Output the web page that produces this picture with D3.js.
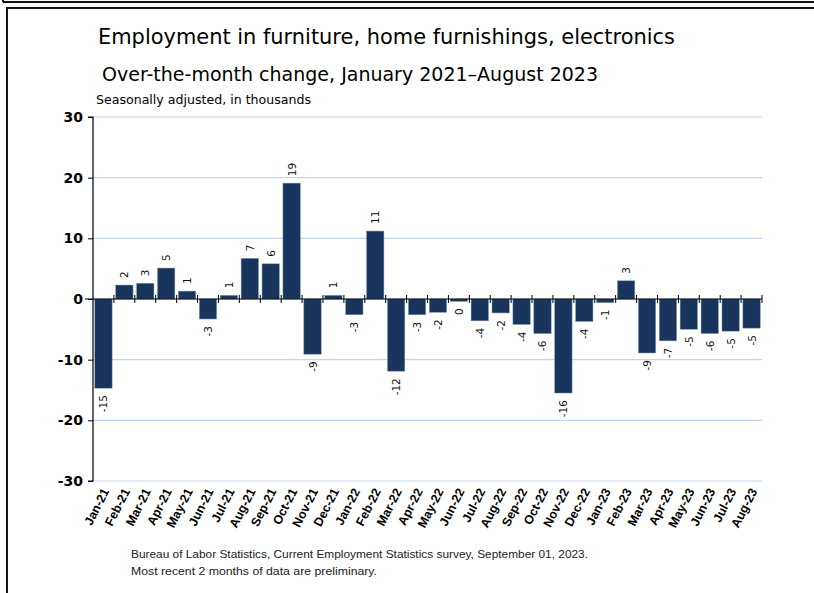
<!DOCTYPE html>
<html><head><meta charset="utf-8">
<script src="https://cdn.jsdelivr.net/npm/d3@7/dist/d3.min.js"></script>
<style>body{margin:0;background:#fff}svg{display:block}</style>
</head><body>
<script>
const months = ["Jan-21","Feb-21","Mar-21","Apr-21","May-21","Jun-21","Jul-21","Aug-21","Sep-21","Oct-21","Nov-21","Dec-21",
"Jan-22","Feb-22","Mar-22","Apr-22","May-22","Jun-22","Jul-22","Aug-22","Sep-22","Oct-22","Nov-22","Dec-22",
"Jan-23","Feb-23","Mar-23","Apr-23","May-23","Jun-23","Jul-23","Aug-23"];
const values = [-14.7,2.3,2.6,5.1,1.3,-3.3,0.6,6.7,5.8,19.1,-9.1,0.6,
-2.6,11.2,-11.9,-2.6,-2.2,-0.4,-3.6,-2.3,-4.2,-5.7,-15.5,-3.7,
-0.6,3.0,-8.9,-6.9,-5.0,-5.7,-5.3,-4.8];
const barLabels = ["-15","2","3","5","1","-3","1","7","6","19","-9","1",
"-3","11","-12","-3","-2","0","-4","-2","-4","-6","-16","-4",
"-1","3","-9","-7","-5","-6","-5","-5"];
const yTicks = [-30,-20,-10,0,10,20,30];
const title = "Employment in furniture, home furnishings, electronics";
const subtitle = "Over-the-month change, January 2021\u2013August 2023";
const unitsNote = "Seasonally adjusted, in thousands";
const footer = ["Bureau of Labor Statistics, Current Employment Statistics survey, September 01, 2023.",
"Most recent 2 months of data are preliminary."];

(function(){
const W = 814, H = 593;
const svg = d3.select("body").append("svg").attr("width", W).attr("height", H);

// frames
svg.append("line").attr("x1",3).attr("x2",W).attr("y1",2).attr("y2",2).attr("stroke","#111").attr("stroke-width",2);
svg.append("line").attr("x1",3).attr("x2",3).attr("y1",0).attr("y2",2).attr("stroke","#111").attr("stroke-width",2);
svg.append("path").attr("d",`M7,${H} V8 H${W}`).attr("fill","none").attr("stroke","#111").attr("stroke-width",2);

const pL = 93, pR = 762, pT = 117, pB = 481;
const x = d3.scaleBand().domain(months).range([pL, pR]).paddingInner(0.17).paddingOuter(0.085);
const y = d3.scaleLinear().domain([-30, 30]).range([pB, pT]);

// gridlines
svg.append("g").selectAll("line").data(yTicks.filter(d => d !== 0)).join("line")
  .attr("x1", pL).attr("x2", pR).attr("y1", d => y(d)).attr("y2", d => y(d))
  .attr("stroke", "#c3d4ec").attr("stroke-width", 1.2);

// bars
svg.append("g").selectAll("rect").data(values).join("rect")
  .attr("x", (d,i) => x(months[i]))
  .attr("width", x.bandwidth())
  .attr("y", d => y(Math.max(0, d)))
  .attr("height", d => Math.abs(y(d) - y(0)))
  .attr("fill", "#18365d").attr("stroke", "#8397b2").attr("stroke-width", 0.5);

// bar labels
svg.append("g").selectAll("text").data(values).join("text")
  .attr("transform", (d,i) => {
    const cx = x(months[i]) + x.bandwidth()/2 + 4;
    const cy = d >= 0 ? y(d) - 7 : y(d) + 7;
    return `translate(${cx},${cy}) rotate(-90)`;
  })
  .attr("text-anchor", d => d >= 0 ? "start" : "end")
  .attr("font-family", "DejaVu Sans, sans-serif").attr("font-size", 10.5).attr("fill", "#111")
  .text((d,i) => barLabels[i]);

// y axis
const yAxis = d3.axisLeft(y).tickValues(yTicks).tickSize(5).tickFormat(d => String(d));
const gy = svg.append("g").attr("transform", `translate(${pL},0)`).call(yAxis);
gy.select(".domain").attr("stroke", "#000").attr("stroke-width", 1.2).attr("d", `M-5,${pT}H0V${pB}H-5`);
gy.selectAll(".tick line").attr("stroke", "#000");
gy.selectAll(".tick text").attr("font-family", "DejaVu Sans, sans-serif").attr("font-weight", "bold")
  .attr("font-size", 14).attr("fill", "#000").attr("x", -10);

// zero axis with category boundary ticks
const zy = y(0);
svg.append("line").attr("x1", pL - 8).attr("x2", pR).attr("y1", zy).attr("y2", zy)
  .attr("stroke", "#000").attr("stroke-width", 1.2);
const bounds = d3.range(months.length + 1).map(i => pL + i * (pR - pL) / months.length);
svg.append("g").selectAll("line").data(bounds.slice(1)).join("line")
  .attr("x1", d => d).attr("x2", d => d).attr("y1", zy - 4).attr("y2", zy + 4)
  .attr("stroke", "#000").attr("stroke-width", 1);

// x labels
svg.append("g").selectAll("text").data(months).join("text")
  .attr("transform", d => `translate(${x(d) + x.bandwidth()/2 + 6},${pB + 10}) rotate(-63)`)
  .attr("text-anchor", "end")
  .attr("font-family", "Liberation Sans, Arial, sans-serif").attr("font-weight", "bold")
  .attr("font-size", 12.5).attr("fill", "#000")
  .text(d => d);

// titles
svg.append("text").attr("x", 98).attr("y", 44).attr("font-family", "DejaVu Sans, sans-serif")
  .attr("font-size", 21).attr("fill", "#000").attr("textLength", 577).attr("lengthAdjust", "spacingAndGlyphs").text(title);
svg.append("text").attr("x", 102).attr("y", 81).attr("font-family", "DejaVu Sans, sans-serif")
  .attr("font-size", 20).attr("fill", "#000").attr("textLength", 496).attr("lengthAdjust", "spacingAndGlyphs").text(subtitle);
svg.append("text").attr("x", 96).attr("y", 104).attr("font-family", "DejaVu Sans, sans-serif")
  .attr("font-size", 12.5).attr("fill", "#000").attr("textLength", 215).attr("lengthAdjust", "spacingAndGlyphs").text(unitsNote);

// footer
svg.append("g").selectAll("text").data(footer).join("text")
  .attr("x", 131).attr("y", (d,i) => 558 + i * 17)
  .attr("font-family", "Liberation Sans, Arial, sans-serif").attr("font-size", 11.5).attr("fill", "#222")
  .attr("textLength", (d,i) => i === 0 ? 457 : 246).attr("lengthAdjust", "spacingAndGlyphs")
  .text(d => d);
})();
</script>
</body></html>
